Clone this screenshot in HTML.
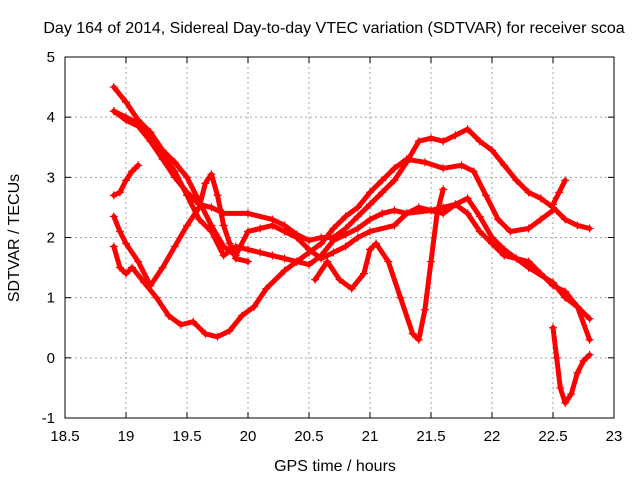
<!DOCTYPE html>
<html><head><meta charset="utf-8"><style>
body{margin:0;background:#fff}
svg{display:block;font-family:"Liberation Sans",sans-serif}
</style></head><body>
<svg id="chart" width="640" height="480" xmlns="http://www.w3.org/2000/svg">
<text x="334" y="33" font-size="16" text-anchor="middle">Day 164 of 2014, Sidereal Day-to-day VTEC variation (SDTVAR) for receiver scoa</text>
<text x="335" y="471" font-size="16" text-anchor="middle">GPS time / hours</text>
<text x="19" y="238" font-size="16" text-anchor="middle" transform="rotate(-90 19 238)">SDTVAR / TECUs</text>
<g id="grid"></g><g id="series"></g>
<rect x="65" y="57" width="549" height="361" fill="none" stroke="#000" stroke-width="1"/>
</svg>
<script>
const xTicks=[18.5,19,19.5,20,20.5,21,21.5,22,22.5,23];
const yTicks=[-1,0,1,2,3,4,5];
const s1=[[18.9,4.5],[19,4.25],[19.1,3.95],[19.2,3.75],[19.3,3.45],[19.4,3.25],[19.5,3.0],[19.6,2.6],[19.7,2.2],[19.8,1.85],[19.9,1.7],[20,2.1],[20.1,2.15],[20.2,2.2],[20.3,2.1],[20.4,2.0],[20.5,1.8],[20.6,1.65],[20.7,1.75],[20.8,1.85],[20.9,2.0],[21,2.1],[21.2,2.2],[21.3,2.4],[21.5,2.45],[21.6,2.5],[21.7,2.55],[21.8,2.4],[21.9,2.1],[22,1.9],[22.1,1.7],[22.2,1.65],[22.3,1.5],[22.5,1.25],[22.6,1.0],[22.7,0.85],[22.8,0.65]];
const s2=[[18.9,4.1],[19,3.95],[19.1,3.85],[19.2,3.6],[19.3,3.3],[19.4,3.0],[19.5,2.75],[19.6,2.55],[19.7,2.5],[19.8,2.4],[20,2.4],[20.2,2.3],[20.3,2.2],[20.4,2.05],[20.5,1.95],[20.6,2.0],[20.7,2.0],[20.8,2.15],[20.9,2.35],[21,2.55],[21.1,2.75],[21.2,2.95],[21.3,3.25],[21.4,3.6],[21.5,3.65],[21.6,3.6],[21.7,3.7],[21.8,3.8],[21.9,3.6],[22,3.45],[22.1,3.2],[22.2,2.95],[22.3,2.75],[22.4,2.65],[22.5,2.5],[22.6,2.3],[22.7,2.2],[22.8,2.15]];
const s3=[[18.9,4.1],[19,4.0],[19.1,3.9],[19.2,3.7],[19.3,3.4],[19.4,3.1],[19.5,2.7],[19.6,2.3],[19.7,2.1],[19.8,1.7],[19.9,1.85],[20,1.8],[20.1,1.75],[20.2,1.7],[20.3,1.65],[20.4,1.6],[20.5,1.55],[20.6,1.7],[20.7,1.95],[20.8,2.05],[20.9,2.15],[21,2.3],[21.1,2.4],[21.2,2.45],[21.3,2.4],[21.4,2.5],[21.5,2.45],[21.6,2.4],[21.7,2.55],[21.8,2.65],[21.9,2.35],[22,2.0],[22.1,1.8],[22.2,1.65],[22.3,1.6],[22.4,1.4],[22.5,1.2],[22.6,1.1],[22.7,0.85],[22.8,0.3]];
const s4=[[18.9,1.85],[18.95,1.5],[19,1.4],[19.05,1.5],[19.15,1.25],[19.25,1.0],[19.35,0.7],[19.45,0.55],[19.55,0.6],[19.65,0.4],[19.75,0.35],[19.85,0.45],[19.95,0.7],[20.05,0.85],[20.15,1.15],[20.3,1.45],[20.4,1.6],[20.5,1.75],[20.6,1.9],[20.7,2.15],[20.8,2.35],[20.9,2.5],[21,2.75],[21.1,2.95],[21.2,3.15],[21.3,3.3],[21.45,3.25],[21.6,3.15],[21.75,3.2],[21.85,3.1],[21.95,2.7],[22.05,2.3],[22.15,2.1],[22.3,2.15],[22.4,2.3],[22.5,2.45]];
const s5=[[18.9,2.35],[18.95,2.1],[19,1.9],[19.1,1.6],[19.2,1.2],[19.3,1.5],[19.4,1.85],[19.5,2.2],[19.6,2.5],[19.65,2.9],[19.7,3.05],[19.75,2.7],[19.8,2.2],[19.85,1.9],[19.9,1.65],[20,1.6]];
const s6=[[18.9,2.7],[18.95,2.75],[19,2.95],[19.05,3.1],[19.1,3.2]];
const s7=[[20.55,1.3],[20.65,1.6],[20.75,1.3],[20.85,1.15],[20.95,1.4],[21,1.8],[21.05,1.9],[21.15,1.6],[21.25,1.0],[21.35,0.4],[21.4,0.3],[21.45,0.8],[21.5,1.6],[21.55,2.4],[21.6,2.8]];
const s8=[[22.5,0.5],[22.53,0.0],[22.56,-0.5],[22.6,-0.75],[22.65,-0.6],[22.7,-0.25],[22.75,-0.05],[22.8,0.05]];
const s9=[[22.5,2.55],[22.55,2.75],[22.6,2.95]];
const allSeries=[s1,s2,s3,s4,s5,s6,s7,s8,s9];
const NS="http://www.w3.org/2000/svg";
const X=v=>65+(v-18.5)/4.5*549, Y=v=>57+(5-v)/6*361;
const grid=document.getElementById('grid'), ser=document.getElementById('series');
function mk(t,a,p){const e=document.createElementNS(NS,t);for(const k in a)e.setAttribute(k,a[k]);p.appendChild(e);return e;}
xTicks.forEach(t=>{const x=X(t);
 if(t>18.5&&t<23){const l=mk('line',{x1:x,y1:57,x2:x,y2:418,stroke:'#a0a0a0','stroke-dasharray':'2,3'},grid);
 
 }
 mk('line',{x1:x,y1:418,x2:x,y2:412,stroke:'#000'},grid);mk('line',{x1:x,y1:57,x2:x,y2:63,stroke:'#000'},grid);
 const tx=mk('text',{x:x,y:441,'font-size':15,'text-anchor':'middle'},grid);tx.textContent=t;
 
 });
yTicks.forEach(t=>{const y=Y(t);
 if(t>-1&&t<5){const l=mk('line',{x1:65,y1:y,x2:614,y2:y,stroke:'#a0a0a0','stroke-dasharray':'2,3'},grid);
 
 }
 mk('line',{x1:65,y1:y,x2:71,y2:y,stroke:'#000'},grid);mk('line',{x1:614,y1:y,x2:608,y2:y,stroke:'#000'},grid);
 const tx=mk('text',{x:55,y:y+5,'font-size':15,'text-anchor':'end'},grid);tx.textContent=t;
 
 });
allSeries.forEach((s,i)=>{
 const g=mk('g',{},ser);
 
 
 mk('polyline',{points:s.map(p=>X(p[0])+','+Y(p[1])).join(' '),fill:'none',stroke:'#f00','stroke-width':5,'stroke-linejoin':'round','stroke-linecap':'round'},g);
 s.forEach(p=>{const x=X(p[0]),y=Y(p[1]);
  const m=mk('path',{d:`M${x-4},${y}H${x+4}M${x},${y-4}V${y+4}`,stroke:'#f00','stroke-width':1.2},g);
  
  });
});
</script>
</body></html>
